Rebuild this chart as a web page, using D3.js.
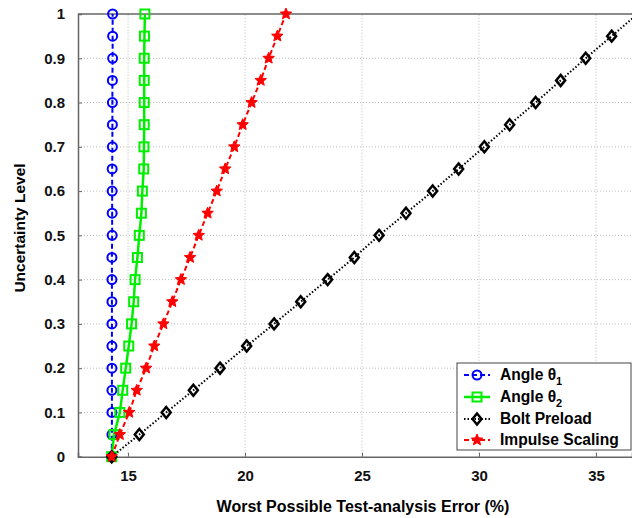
<!DOCTYPE html>
<html>
<head>
<meta charset="utf-8">
<script src="https://cdn.jsdelivr.net/npm/d3@7"></script>
<style>
  body { margin: 0; background: #fff; }
  svg { display: block; font-family: Arial, "Liberation Sans", sans-serif; }
</style>
</head>
<body>
<div id="chart"></div>
<script>
// Uncertainty level vs worst possible test-analysis error

const width = 632;
const height = 518;
const margin = {left: 78, right: 0, bottom: 61, top: 14};

// data
const uncertainty = [0, 0.05, 0.1, 0.15, 0.2, 0.25, 0.3, 0.35, 0.4, 0.45, 0.5,
                     0.55, 0.6, 0.65, 0.7, 0.75, 0.8, 0.85, 0.9, 0.95, 1];
const angle1 = [14.3, 14.31, 14.31, 14.31, 14.31, 14.31, 14.31, 14.31, 14.31, 14.31, 14.32,
                14.32, 14.32, 14.32, 14.33, 14.33, 14.33, 14.33, 14.34, 14.34, 14.34];
const angle2 = [14.3, 14.4, 14.65, 14.77, 14.9, 15.03, 15.15, 15.24, 15.3, 15.4, 15.48,
                15.57, 15.61, 15.67, 15.68, 15.69, 15.69, 15.69, 15.69, 15.7, 15.72];
const boltPreload = [14.3, 15.48, 16.63, 17.79, 18.93, 20.07, 21.24, 22.38, 23.53, 24.67, 25.73,
                     26.88, 28.02, 29.13, 30.23, 31.31, 32.42, 33.49, 34.56, 35.67, 36.78];
const impulse = [14.3, 14.65, 15.05, 15.37, 15.77, 16.12, 16.51, 16.89, 17.26, 17.65, 18.02,
                 18.4, 18.79, 19.15, 19.54, 19.9, 20.28, 20.67, 21.01, 21.38, 21.75];

const xTicks = [15, 20, 25, 30, 35];
const yTicks = [0, 0.1, 0.2, 0.3, 0.4, 0.5, 0.6, 0.7, 0.8, 0.9, 1];

const series = [
  {name: "Angle θ", sub: "1", values: angle1, color: "#0000ff", dash: "5,3", width: 2, marker: "circle"},
  {name: "Angle θ", sub: "2", values: angle2, color: "#00ee00", dash: null, width: 2.5, marker: "square"},
  {name: "Bolt Preload", sub: null, values: boltPreload, color: "#000000", dash: "1.5,2", width: 2, marker: "diamond"},
  {name: "Impulse Scaling", sub: null, values: impulse, color: "#ff0000", dash: "5,3", width: 2, marker: "star"}
];

const svg = d3.select("#chart")
  .append("svg")
  .attr("width", width)
  .attr("height", height);

// scales
const x = d3.scaleLinear()
  .domain([12.86, 36.54])
  .range([margin.left, width - margin.right]);

const y = d3.scaleLinear()
  .domain([0, 1])
  .range([height - margin.bottom - 0.3, margin.top]);

// grid lines
svg.append("g")
  .selectAll("line")
  .data(xTicks)
  .join("line")
    .attr("x1", d => x(d)).attr("x2", d => x(d))
    .attr("y1", y(0)).attr("y2", y(1))
    .attr("stroke", "#bbb")
    .attr("stroke-width", 1)
    .attr("stroke-dasharray", "1,2");

svg.append("g")
  .selectAll("line")
  .data(yTicks.slice(1, -1))
  .join("line")
    .attr("x1", x.range()[0]).attr("x2", x.range()[1])
    .attr("y1", d => y(d)).attr("y2", d => y(d))
    .attr("stroke", "#bbb")
    .attr("stroke-width", 1)
    .attr("stroke-dasharray", "1,2");

// axes
svg.append("g")
  .attr("transform", `translate(0,${y(0)})`)
  .call(d3.axisBottom(x).tickValues(xTicks).tickSize(-4).tickPadding(14))
  .call(g => g.select(".domain").attr("stroke", "#666").attr("stroke-width", 1.5))
  .call(g => g.selectAll(".tick line").attr("stroke", "#666"))
  .call(g => g.selectAll("text").attr("font-size", 15).attr("font-weight", "bold").attr("fill", "#111"));

svg.append("g")
  .attr("transform", `translate(${x.range()[0]},0)`)
  .call(d3.axisLeft(y).tickValues(yTicks).tickFormat(d3.format("")).tickSize(-4).tickPadding(13))
  .call(g => g.select(".domain").attr("stroke", "#666").attr("stroke-width", 1.5))
  .call(g => g.selectAll(".tick line").attr("stroke", "#666"))
  .call(g => g.selectAll("text").attr("font-size", 15).attr("font-weight", "bold").attr("fill", "#111"));

// top border
svg.append("line")
  .attr("x1", x.range()[0]).attr("x2", x.range()[1])
  .attr("y1", y(1)).attr("y2", y(1))
  .attr("stroke", "#666")
  .attr("stroke-width", 1.5);

// axis titles
svg.append("text")
  .attr("x", 363)
  .attr("y", 512)
  .attr("text-anchor", "middle")
  .attr("font-size", 16)
  .attr("font-weight", "bold")
  .text("Worst Possible Test-analysis Error (%)");

svg.append("text")
  .attr("transform", "translate(25,228) rotate(-90)")
  .attr("text-anchor", "middle")
  .attr("font-size", 15.5)
  .attr("font-weight", "bold")
  .text("Uncertainty Level");

// markers
function starPath(r) {
  const pts = [];
  for (let i = 0; i < 10; i++) {
    const a = -Math.PI / 2 + i * Math.PI / 5;
    const rr = i % 2 === 0 ? r : r * 0.45;
    pts.push([rr * Math.cos(a), rr * Math.sin(a)]);
  }
  return "M" + pts.map(p => p.join(",")).join("L") + "Z";
}

function drawMarker(g, type, color) {
  if (type === "circle") {
    g.append("circle").attr("r", 4.5).attr("fill", "none").attr("stroke", color).attr("stroke-width", 2);
  } else if (type === "square") {
    g.append("rect").attr("x", -4.5).attr("y", -4.5).attr("width", 9).attr("height", 9)
      .attr("fill", "none").attr("stroke", color).attr("stroke-width", 2);
  } else if (type === "diamond") {
    g.append("path").attr("d", "M0,-5.5L4.5,0L0,5.5L-4.5,0Z")
      .attr("fill", "none").attr("stroke", color).attr("stroke-width", 2.5);
  } else {
    g.append("path").attr("d", starPath(6)).attr("fill", color).attr("stroke", color).attr("stroke-width", 1);
  }
}

const line = d3.line()
  .x(d => x(d[0]))
  .y(d => y(d[1]));

series.forEach(s => {
  const pts = s.values.map((v, i) => [v, uncertainty[i]]);
  svg.append("path")
    .datum(pts)
    .attr("d", line)
    .attr("fill", "none")
    .attr("stroke", s.color)
    .attr("stroke-width", s.width)
    .attr("stroke-dasharray", s.dash);

  svg.append("g")
    .selectAll("g")
    .data(pts)
    .join("g")
      .attr("transform", d => `translate(${x(d[0])},${y(d[1])})`)
      .each(function() { drawMarker(d3.select(this), s.marker, s.color); });
});

// legend
const legend = svg.append("g");
legend.append("rect")
  .attr("x", 457).attr("y", 363)
  .attr("width", 174).attr("height", 87)
  .attr("fill", "#fff")
  .attr("stroke", "#444")
  .attr("stroke-width", 1);

const rowY = [375, 397, 419, 440];
series.forEach((s, i) => {
  const row = legend.append("g").attr("transform", `translate(0,${rowY[i]})`);
  row.append("line")
    .attr("x1", 464).attr("x2", 490)
    .attr("stroke", s.color)
    .attr("stroke-width", s.width)
    .attr("stroke-dasharray", s.dash);
  drawMarker(row.append("g").attr("transform", "translate(477,0)"), s.marker, s.color);
  const t = row.append("text")
    .attr("x", 500)
    .attr("y", 5)
    .attr("font-size", 15.6)
    .attr("font-weight", "bold")
    .text(s.name);
  if (s.sub) {
    t.append("tspan").attr("dy", 5).attr("font-size", 11).text(s.sub);
  }
});
</script>
</body>
</html>
